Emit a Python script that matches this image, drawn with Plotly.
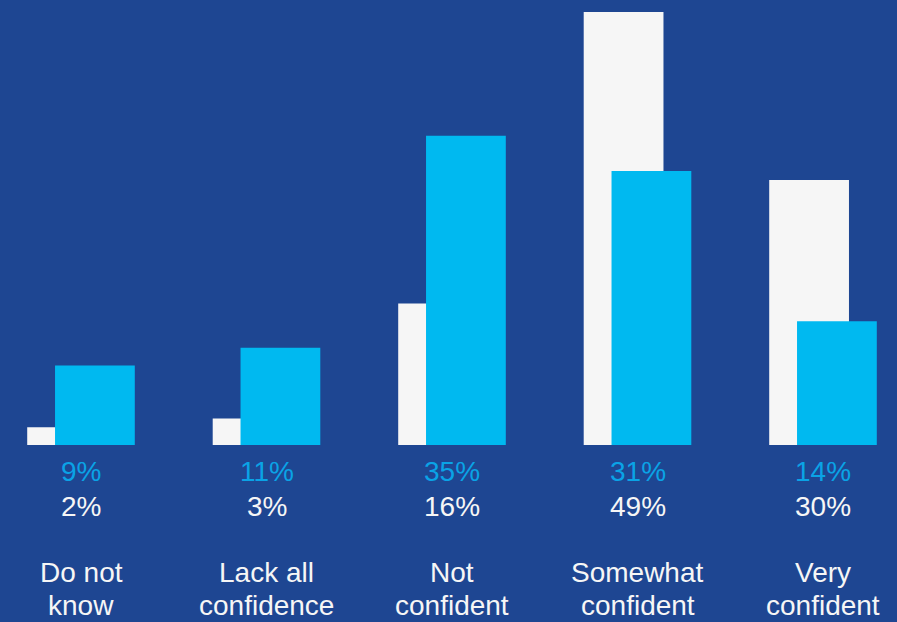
import plotly.graph_objects as go

categories = ["Do not know", "Lack all confidence", "Not confident", "Somewhat confident", "Very confident"]
cat_line1 = ["Do not", "Lack all", "Not", "Somewhat", "Very"]
cat_line2 = ["know", "confidence", "confident", "confident", "confident"]
white_values = [2, 3, 16, 49, 30]
cyan_values = [9, 11, 35, 31, 14]

BG = "#1e4692"
CYAN = "#00b9f0"
CYAN_TXT = "#0aa3e6"
WHITE = "#f6f6f6"
FONT = "Liberation Sans"

x = list(range(len(categories)))

fig = go.Figure()
fig.add_trace(go.Bar(x=x, y=white_values, marker=dict(color=WHITE, line=dict(width=0)),
                     width=0.43, offset=-0.29, hoverinfo="skip", showlegend=False))
fig.add_trace(go.Bar(x=x, y=cyan_values, marker=dict(color=CYAN, line=dict(width=0)),
                     width=0.43, offset=-0.14, hoverinfo="skip", showlegend=False))

plot_bottom = 445
ann = []
def add(xi, text, py, color):
    ann.append(dict(x=xi, y=0, xref="x", yref="y", text=text, showarrow=False,
                    xanchor="center", yanchor="middle", yshift=-(py - plot_bottom),
                    font=dict(family=FONT, size=28, color=color)))

for i in x:
    add(i, f"{cyan_values[i]}%", 471, CYAN_TXT)
    add(i, f"{white_values[i]}%", 506, WHITE)
    add(i, cat_line1[i], 572, WHITE)
    add(i, cat_line2[i], 605, WHITE)

fig.update_layout(
    width=897, height=622,
    margin=dict(l=0, r=0, t=0, b=622 - plot_bottom, pad=0),
    paper_bgcolor=BG, plot_bgcolor=BG,
    barmode="overlay",
    xaxis=dict(range=[-81 / 185.5, (897 - 81) / 185.5], visible=False, fixedrange=True),
    yaxis=dict(range=[0, 49 * 445 / 433], visible=False, fixedrange=True),
    annotations=ann,
    showlegend=False,
)

fig.write_html("out.html", config={"displayModeBar": False})
